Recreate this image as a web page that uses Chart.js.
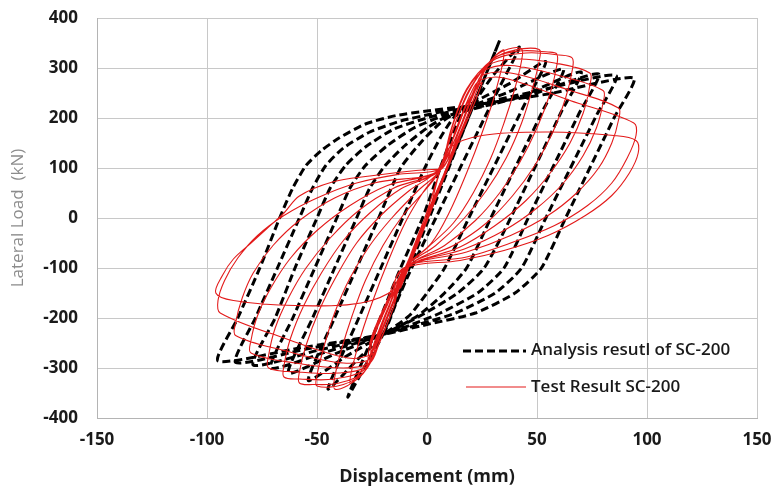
<!DOCTYPE html>
<html>
<head>
<meta charset="utf-8">
<script src="https://cdn.jsdelivr.net/npm/chart.js@4.4.1/dist/chart.umd.min.js"></script>
<style>
  html, body { margin: 0; padding: 0; background: #ffffff; }
  #chart { display: block; }
</style>
</head>
<body>
<canvas id="chart" width="777" height="497"></canvas>
<script>
// axis ranges / ticks
var xTicks = [-150, -100, -50, 0, 50, 100, 150];
var yTicks = [-400, -300, -200, -100, 0, 100, 200, 300, 400];

var seriesNames = ['Analysis resutl of SC-200', 'Test Result SC-200'];

// analysis result: [displacement mm, load kN], one cycle after another
var analysisPoints = [
  [0, 0], [16, 170], [33, 355],
  [17, 180], [1, 0], [-9, -110], [-20, -233], [-28, -295], [-36, -358],
  [-24, -230], [-12, -100], [-2, 0], [6, 100], [12, 170], [16, 210], [22, 235], [30, 285], [42, 342],
  [33, 262], [4, 0], [-7, -100], [-14, -170], [-20, -233], [-32, -285], [-45, -342],
  [-31, -200], [-21, -100], [-11, 0], [-1, 100], [6, 160], [12, 200], [20, 228], [38, 270], [54, 313],
  [45, 233], [19, 0], [8, -100], [0, -150], [-8, -195], [-20, -233], [-38, -280], [-54, -325],
  [-42, -200], [-32, -100], [-22, 0], [-12, 100], [-3, 150], [6, 190], [15, 215], [36, 250], [62, 298],
  [53, 218], [29, 0], [18, -100], [8, -150], [-4, -195], [-20, -233], [-42, -272], [-63, -310],
  [-52, -200], [-42, -100], [-32, 0], [-26, 60], [-19, 105], [-10, 145], [0, 180], [10, 205], [42, 242], [70, 292],
  [61, 212], [38, 0], [26, -100], [14, -150], [-2, -193], [-20, -233], [-46, -268], [-71, -300],
  [-61, -200], [-51, -100], [-41, 0], [-35, 60], [-28, 105], [-18, 145], [-6, 180], [8, 205], [48, 248], [78, 288],
  [69, 208], [46, 0], [35, -100], [23, -150], [6, -190], [-8, -215], [-20, -233], [-50, -265], [-79, -294],
  [-69, -200], [-60, -100], [-50, 0], [-44, 60], [-37, 105], [-28, 142], [-15, 178], [0, 200], [18, 222], [54, 258], [86, 285],
  [77, 205], [54, 0], [43, -100], [31, -150], [13, -190], [-3, -212], [-20, -233], [-55, -262], [-87, -289],
  [-78, -200], [-68, -100], [-58, 0], [-52, 60], [-46, 105], [-38, 140], [-26, 172], [-12, 194], [2, 208], [16, 222], [55, 248], [94, 280],
  [85, 200], [63, 0], [52, -100], [40, -150], [22, -190], [0, -213], [-20, -233], [-58, -260], [-95, -286],
  [-86, -200], [-76, -100], [-67, 0], [-61, 60], [-55, 105], [-48, 135], [-40, 160], [-28, 188], [-14, 205], [0, 214], [15, 222]
];

// test result: [displacement mm, load kN]
var testPoints = [
  [0, 0], [5, 50], [-4, -50], [9, 95], [-8, -95], [13, 140], [-12, -140], [18, 195], [-18, -195], [22, 245], [-22, -245],
  [0, 0], [7, 80], [15, 160], [7, 80], [-1, 0], [-8, -80], [-15, -160],
  [-8, -80], [-1, 0], [6, 95], [13, 170], [19, 235], [25, 270],
  [12, 130], [0, 0], [-10, -100], [-17, -175], [-25, -270],
  [-12, -130], [0, 0], [6, 97], [12, 180], [20, 260], [29, 315], [35, 335],
  [31, 250], [25, 170], [18, 90], [10, 10], [2, -50], [-10, -100], [-16, -175], [-23, -250], [-29, -300], [-35, -330],
  [-31, -250], [-25, -170], [-18, -90], [-10, -10], [-2, 50], [6, 98], [15, 180], [23, 265], [30, 320], [37, 338], [43, 338],
  [43, 315], [40, 260], [35, 190], [29, 120], [21, 50], [12, -10], [0, -60], [-10, -100], [-19, -178], [-26, -255], [-28, -305], [-36, -335], [-42, -342],
  [-42, -320], [-39, -265], [-34, -195], [-28, -125], [-20, -55], [-11, 5], [0, 60], [6, 97], [11, 178], [18, 258], [30, 318], [40, 336], [51, 337],
  [51, 315], [48, 260], [43, 190], [36, 120], [27, 55], [17, 0], [4, -55], [-10, -100], [-15, -176], [-22, -252], [-28, -305], [-38, -333], [-50, -336],
  [-50, -315], [-47, -260], [-42, -190], [-35, -120], [-26, -55], [-16, 0], [-4, 55], [6, 96], [15, 182], [22, 262], [30, 318], [42, 334], [55, 332], [59, 328],
  [59, 305], [56, 250], [50, 180], [42, 110], [33, 50], [22, -5], [8, -55], [-9, -98], [-17, -172], [-24, -250], [-28, -305], [-40, -330], [-52, -333], [-58, -330],
  [-58, -308], [-55, -255], [-49, -185], [-41, -115], [-32, -50], [-21, 5], [-8, 55], [5, 97], [12, 178], [19, 255], [30, 315], [45, 330], [60, 326], [66, 320],
  [66, 295], [63, 240], [57, 170], [49, 105], [39, 45], [27, -10], [12, -55], [-10, -100], [-16, -177], [-23, -255], [-28, -302], [-42, -322], [-58, -322], [-65, -318],
  [-65, -295], [-62, -240], [-56, -175], [-48, -110], [-38, -45], [-26, 10], [-12, 58], [6, 96], [16, 180], [23, 258], [28, 305], [40, 318], [58, 310], [74, 290],
  [74, 265], [71, 210], [65, 150], [56, 90], [45, 35], [31, -15], [15, -58], [-9, -99], [-18, -174], [-25, -248], [-27, -295], [-40, -310], [-58, -308], [-72, -300],
  [-72, -275], [-69, -220], [-63, -160], [-55, -100], [-44, -40], [-31, 15], [-15, 60], [5, 95], [11, 176], [18, 255], [26, 295], [38, 305], [60, 285], [80, 255],
  [80, 230], [77, 180], [71, 125], [62, 70], [50, 20], [35, -25], [17, -62], [-10, -101], [-15, -176], [-22, -254], [-26, -290], [-38, -300], [-60, -290], [-80, -270],
  [-80, -245], [-77, -195], [-71, -140], [-62, -80], [-50, -25], [-35, 25], [-18, 65], [6, 97], [15, 178], [22, 258], [25, 285], [38, 290], [65, 255], [87, 220],
  [87, 195], [84, 150], [78, 100], [68, 50], [55, 5], [38, -35], [18, -68], [-10, -100], [-19, -174], [-26, -250], [-25, -280], [-38, -290], [-65, -265], [-87, -235],
  [-87, -210], [-84, -160], [-79, -110], [-70, -55], [-58, -5], [-42, 40], [-24, 70], [6, 96], [13, 176], [20, 250], [24, 275], [35, 280], [65, 235], [94, 190],
  [95, 165], [91, 120], [84, 70], [73, 25], [58, -15], [38, -50], [18, -78], [-11, -101], [-17, -176], [-24, -250], [-24, -270], [-36, -280], [-65, -240], [-94, -190],
  [-95, -165], [-92, -125], [-86, -80], [-77, -35], [-65, 5], [-50, 40], [-32, 70], [-12, 88], [6, 98], [10, 140], [25, 165], [55, 172], [85, 165], [95, 155],
  [96, 130], [92, 90], [84, 45], [72, 5], [55, -35], [35, -65], [15, -85], [-10, -100], [-14, -140], [-30, -170], [-60, -175], [-88, -165], [-96, -150],
  [-93, -115], [-88, -82], [-80, -50], [-73, -22], [-65, 10], [-58, 44], [-43, 72], [-26, 84], [-5, 95], [6, 98]
];

function toXY(points) {
  return points.map(function (p) { return { x: p[0], y: p[1] }; });
}

var legendBox = {
  id: 'legendBox',
  afterDraw: function (chart) {
    var ctx = chart.ctx;
    ctx.save();
    ctx.lineWidth = 3;
    ctx.strokeStyle = '#000000';
    ctx.setLineDash([8, 4]);
    ctx.beginPath();
    ctx.moveTo(463, 351);
    ctx.lineTo(526, 351);
    ctx.stroke();
    ctx.setLineDash([]);
    ctx.lineWidth = 1.2;
    ctx.strokeStyle = '#e31a1a';
    ctx.beginPath();
    ctx.moveTo(466, 387);
    ctx.lineTo(526, 387);
    ctx.stroke();
    ctx.fillStyle = '#1a1a1a';
    ctx.font = '600 17px "Open Sans"';
    ctx.textBaseline = 'middle';
    ctx.fillText(seriesNames[0], 531, 350);
    ctx.fillText(seriesNames[1], 531, 387);
    ctx.restore();
  }
};

var tickFont = { family: 'Open Sans', size: 17, weight: 'bold' };

new Chart(document.getElementById('chart'), {
  type: 'scatter',
  data: {
    datasets: [{
      label: seriesNames[1],
      data: toXY(testPoints),
      showLine: true,
      borderColor: '#e31a1a',
      borderWidth: 1.1,
      pointRadius: 0,
      tension: 0.35
    }, {
      label: seriesNames[0],
      data: toXY(analysisPoints),
      showLine: true,
      borderColor: '#000000',
      borderWidth: 3,
      borderDash: [8, 4],
      pointRadius: 0,
      tension: 0.2
    }]
  },
  options: {
    responsive: false,
    animation: false,
    devicePixelRatio: 1,
    layout: { padding: { top: 18, right: 20, left: 0, bottom: 0 } },
    plugins: {
      legend: { display: false },
      tooltip: { enabled: false }
    },
    scales: {
      x: {
        type: 'linear',
        min: xTicks[0],
        max: xTicks[xTicks.length - 1],
        afterBuildTicks: function (scale) {
          scale.ticks = xTicks.map(function (v) { return { value: v }; });
        },
        afterFit: function (scale) {
          scale.height = 79;
          scale.paddingLeft = 0;
          scale.paddingRight = 0;
        },
        grid: { color: '#c8c8c8', drawTicks: false },
        border: { color: '#b4b4b4' },
        ticks: { font: tickFont, color: '#1a1a1a', padding: 12, maxRotation: 0 },
        title: {
          display: true,
          text: 'Displacement (mm)',
          font: { family: 'Open Sans', size: 18, weight: 'bold' },
          color: '#1a1a1a',
          padding: { top: 0, bottom: 9 }
        }
      },
      y: {
        type: 'linear',
        min: yTicks[0],
        max: yTicks[yTicks.length - 1],
        afterBuildTicks: function (scale) {
          scale.ticks = yTicks.map(function (v) { return { value: v }; });
        },
        afterFit: function (scale) {
          scale.width = 97;
          scale.paddingTop = 0;
          scale.paddingBottom = 0;
        },
        grid: { color: '#c8c8c8', drawTicks: false },
        border: { color: '#b4b4b4' },
        ticks: { font: tickFont, color: '#1a1a1a', padding: 19 },
        title: {
          display: true,
          text: 'Lateral Load  (kN)',
          font: { family: 'Open Sans', size: 17 },
          color: '#8c8c8c',
          padding: { top: 8, bottom: 0 }
        }
      }
    }
  },
  plugins: [legendBox]
});
</script>
</body>
</html>
